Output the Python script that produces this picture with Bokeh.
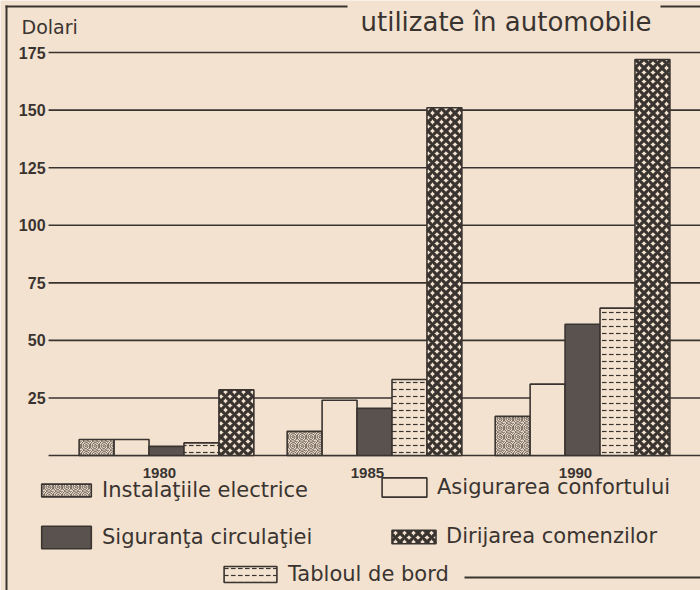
from bokeh.plotting import figure
from bokeh.models import Range1d, Legend, LegendItem, Label, BoxAnnotation
from bokeh.core.properties import value
from bokeh.embed import file_html
from bokeh.resources import INLINE

# ---- data ----
years = ["1980", "1985", "1990"]
series_names = ["Instalaţiile electrice", "Asigurarea confortului",
                "Siguranţa circulaţiei", "Tabloul de bord", "Dirijarea comenzilor"]
instalatii = [7, 10.5, 17]
asigurare = [7, 24, 31]
siguranta = [4, 20.5, 57]
tablou = [5.5, 33, 64]
dirijare = [28.5, 151, 172]
y_ticks = [0, 25, 50, 75, 100, 125, 150, 175]
y_tick_labels = ["", "25", "50", "75", "100", "125", "150", "175"]
unit_label = "Dolari"
title_text = "utilizate în automobile"

# ---- style / layout ----
PAPER = "#f3e2cf"
INK = "#3a3431"
FONT = "DejaVu Sans"
W, H = 700, 590
BAR_W = 0.168
X0, X1 = -0.798, 2.567       # full canvas width
Y0, Y1 = -58.6, 197.6        # full canvas height
GRID_X0 = -0.567             # where the grid lines start

p = figure(width=W, height=H, output_backend="svg", toolbar_location=None,
           x_range=Range1d(X0, X1), y_range=Range1d(Y0, Y1),
           x_axis_location=None, y_axis_location=None, min_border=0)
p.background_fill_color = PAPER
p.border_fill_color = PAPER
p.outline_line_color = None
p.grid.visible = False

# grid lines + tick labels
p.segment(x0=[GRID_X0] * len(y_ticks), x1=[X1] * len(y_ticks), y0=y_ticks, y1=y_ticks,
          line_color=INK, line_width=1.6)
p.text(x=[GRID_X0] * len(y_ticks), y=y_ticks, text=y_tick_labels, x_offset=-3,
       text_align="right", text_baseline="middle", text_font=value("Liberation Sans"),
       text_font_style="bold", text_font_size="16px", text_color=INK)
p.text(x=[i - 0.034 for i in range(len(years))], y=[0] * len(years), text=years,
       y_offset=17, text_align="center", text_baseline="middle",
       text_font=value("Liberation Sans"), text_font_style="bold", text_font_size="15px",
       text_color=INK)

styles = [
    dict(fill_color=PAPER, hatch_pattern="@", hatch_scale=9, hatch_weight=1.0, hatch_color=INK),
    dict(fill_color=PAPER),
    dict(fill_color="#5a524e"),
    dict(fill_color=PAPER, hatch_pattern='"', hatch_scale=7, hatch_weight=1.2, hatch_color=INK),
    dict(fill_color=PAPER, hatch_pattern="x", hatch_scale=9, hatch_weight=3.2, hatch_color=INK),
]
values = [instalatii, asigurare, siguranta, tablou, dirijare]
renderers = []
for j, (vals, st) in enumerate(zip(values, styles)):
    xs = [i + (j - 2) * BAR_W for i in range(len(years))]
    r = p.vbar(x=xs, top=vals, bottom=0, width=BAR_W, line_color=INK, line_width=1.6, **st)
    renderers.append(r)

# legends, in series order: (x, y of bottom-left in frame px), glyph w, h
leg_pos = [(35, 88, 62, 16), (376, 91, 56, 24), (35, 39, 62, 28),
           (217, 4, 66, 20), (386, 42, 55, 17)]
for name, r, (lx, ly, gw, gh) in zip(series_names, renderers, leg_pos):
    leg = Legend(items=[LegendItem(label=name, renderers=[r])], location=(lx, ly),
                 glyph_width=gw, glyph_height=gh, label_height=gh,
                 label_text_font=FONT, label_text_font_size="21px",
                 label_text_color=INK, background_fill_alpha=0, border_line_alpha=0,
                 padding=0, margin=0, spacing=0, label_standoff=5)
    p.add_layout(leg)

# texts
p.add_layout(Label(x=21, y=H - 26, x_units="screen", y_units="screen",
                   text=unit_label, text_font=FONT, text_font_size="19px",
                   text_baseline="middle", text_color=INK))
p.add_layout(Label(x=360, y=H - 21, x_units="screen", y_units="screen",
                   text=title_text, text_font=FONT, text_font_size="26px",
                   text_baseline="alphabetic", text_color=INK))

# frame border pieces, given in canvas px (top-left origin)
def border(x0, x1, y0, y1):
    p.add_layout(BoxAnnotation(left=x0, right=x1, top=H - y0, bottom=H - y1,
                               left_units="screen", right_units="screen",
                               top_units="screen", bottom_units="screen",
                               fill_color=INK, fill_alpha=1, line_color=None))

border(5, 7, 5, H)
border(5, 347, 5, 7)
border(660, W, 5, 7)
border(464, W, 576, 578)

open("out.html", "w").write(file_html(p, INLINE))
